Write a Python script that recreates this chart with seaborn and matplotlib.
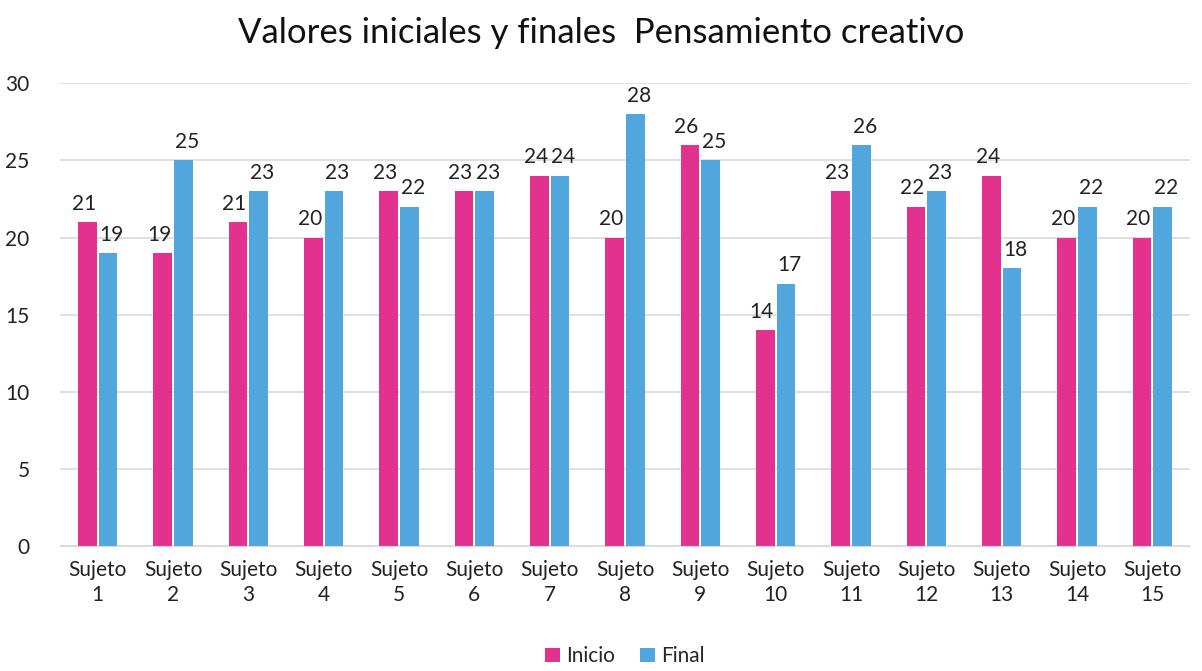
import matplotlib
matplotlib.use('Agg')
import matplotlib.pyplot as plt
import seaborn as sns
import pandas as pd

sujetos = ['Sujeto\n%d' % i for i in range(1, 16)]
inicio = [21, 19, 21, 20, 23, 23, 24, 20, 26, 14, 23, 22, 24, 20, 20]
final = [19, 25, 23, 23, 22, 23, 24, 28, 25, 17, 26, 23, 18, 22, 22]

df = pd.DataFrame({'Sujeto': sujetos * 2,
                   'Valor': inicio + final,
                   'Serie': ['Inicio'] * 15 + ['Final'] * 15})

sns.set_style('white')
plt.rcParams['font.family'] = ['Lato', 'DejaVu Sans']

fig = plt.figure(figsize=(12.02, 6.71), dpi=100)
ax = fig.add_axes([0.05, 0.186, 0.94, 0.69])
sns.barplot(data=df, x='Sujeto', y='Valor', hue='Serie',
            palette={'Inicio': '#E2318F', 'Final': '#50A6DD'},
            saturation=1, linewidth=0, width=0.55, gap=0.1, ax=ax)

# labels nudged apart a little so equal pairs don't collide
for c, dx in zip(ax.containers, [-2.5, 2.5]):
    anns = ax.bar_label(c, fontsize=15, padding=6, color='#222222')
    for a in anns:
        a.xyann = (dx, 6)

ax.set_ylim(0, 30)
ax.set_yticks(range(0, 31, 5))
ax.yaxis.grid(True, color='#d9d9d9', linewidth=1.2)
ax.set_axisbelow(True)
for s in ['top', 'right', 'left']:
    ax.spines[s].set_visible(False)
ax.spines['bottom'].set_color('#d9d9d9')
ax.tick_params(axis='both', labelsize=15, colors='#222222', length=0, pad=10)
ax.tick_params(axis='y', pad=22)
ax.set_xlabel('')
ax.set_ylabel('')
ax.set_xlim(-0.5, 14.5)
for t in ax.get_xticklabels():
    t.set_linespacing(1.3)

ax.legend(loc='lower center', bbox_to_anchor=(0.5, -0.3), ncol=2, frameon=False,
          fontsize=15, handlelength=0.7, handleheight=0.7, handletextpad=0.3,
          columnspacing=1.2)

fig.suptitle('Valores iniciales y finales  Pensamiento creativo', fontsize=25,
             y=0.975, color='#111111')

plt.savefig('out.png', dpi=100)
